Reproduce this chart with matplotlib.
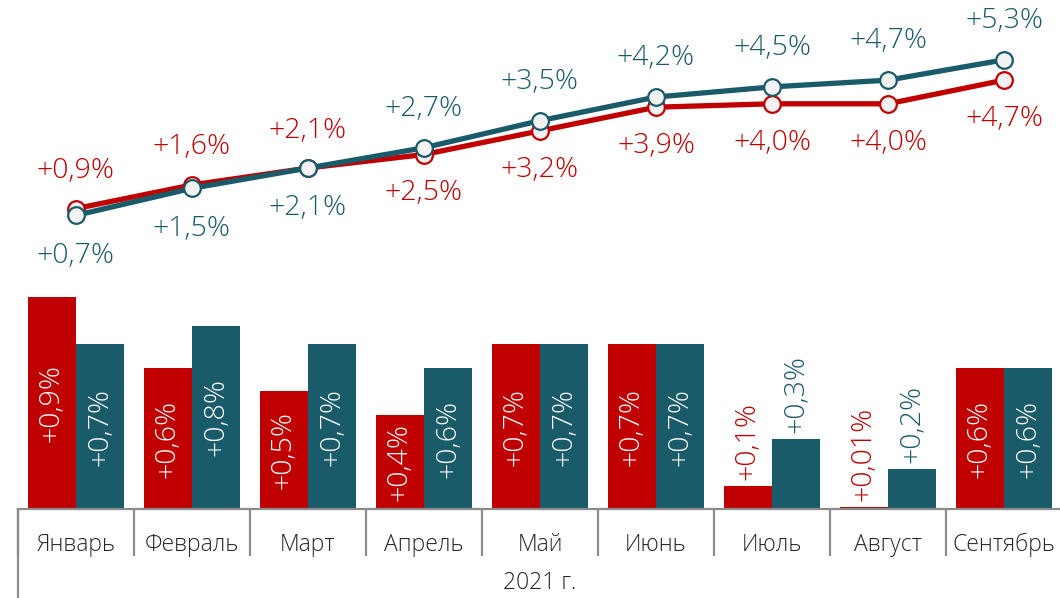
import numpy as np
import matplotlib.pyplot as plt
from matplotlib.transforms import blended_transform_factory

plt.rcParams['font.family'] = ['Open Sans', 'DejaVu Sans']
plt.rcParams['font.weight'] = 'light'

# data
months = ['Январь', 'Февраль', 'Март', 'Апрель', 'Май', 'Июнь', 'Июль', 'Август', 'Сентябрь']
cum_red = [0.9, 1.6, 2.1, 2.5, 3.2, 3.9, 4.0, 4.0, 4.7]
cum_teal = [0.7, 1.5, 2.1, 2.7, 3.5, 4.2, 4.5, 4.7, 5.3]
cum_red_lbl = ['+0,9%', '+1,6%', '+2,1%', '+2,5%', '+3,2%', '+3,9%', '+4,0%', '+4,0%', '+4,7%']
cum_teal_lbl = ['+0,7%', '+1,5%', '+2,1%', '+2,7%', '+3,5%', '+4,2%', '+4,5%', '+4,7%', '+5,3%']
mon_red = [0.90, 0.60, 0.50, 0.40, 0.70, 0.70, 0.10, 0.01, 0.60]
mon_teal = [0.70, 0.78, 0.70, 0.60, 0.70, 0.70, 0.30, 0.17, 0.60]
mon_red_lbl = ['+0,9%', '+0,6%', '+0,5%', '+0,4%', '+0,7%', '+0,7%', '+0,1%', '+0,01%', '+0,6%']
mon_teal_lbl = ['+0,7%', '+0,8%', '+0,7%', '+0,6%', '+0,7%', '+0,7%', '+0,3%', '+0,2%', '+0,6%']
year = '2021 г.'

RED = '#C00000'
TEAL = '#1A5B6A'
GRAY = '#8C8C8C'
FS = 20.5
FS_AX = 16.5

W, H = 1060, 598
fig = plt.figure(figsize=(W / 100, H / 100), dpi=100)

def box(x0, y_top, x1, y_bot):
    # pixel box -> figure fraction
    return [x0 / W, 1 - y_bot / H, (x1 - x0) / W, (y_bot - y_top) / H]

x = np.arange(len(months))
xlim = (-0.5, len(months) - 0.5)

# ---- line chart (cumulative) ----
axl = fig.add_axes(box(18, 0, 1062, 280))
axl.set_xlim(*xlim)
# 33.8 px per percent, zero at y=239 px
axl.set_ylim(-(280 - 239) / 33.8, 239 / 33.8)
axl.axis('off')
axl.plot(x, cum_red, color=RED, lw=3.8, marker='o', ms=12, mfc='#F2F2F2', mec=RED, mew=1.6,
         solid_capstyle='round', zorder=3)
axl.plot(x, cum_teal, color=TEAL, lw=3.8, marker='o', ms=12, mfc='#F2F2F2', mec=TEAL, mew=1.6,
         solid_capstyle='round', zorder=4)
for i in range(len(x)):
    up_red = i < 3  # red label above for Jan-Mar, below afterwards
    axl.annotate(cum_red_lbl[i], (x[i], cum_red[i]), xytext=(0, 27 if up_red else -28),
                 textcoords='offset points', ha='center', va='center', color=RED, fontsize=FS)
    axl.annotate(cum_teal_lbl[i], (x[i], cum_teal[i]), xytext=(0, -29 if up_red else 28),
                 textcoords='offset points', ha='center', va='center', color=TEAL, fontsize=FS)

# ---- bar chart (monthly) ----
axb = fig.add_axes(box(18, 280, 1062, 509))
axb.set_xlim(*xlim)
axb.set_ylim(0, 229 / 235)
bw = 0.414
b1 = axb.bar(x - bw / 2, mon_red, bw, color=RED)
b2 = axb.bar(x + bw / 2, mon_teal, bw, color=TEAL)
for bars, lbls, col in ((b1, mon_red_lbl, RED), (b2, mon_teal_lbl, TEAL)):
    for b, t in zip(bars, lbls):
        h = b.get_height()
        cx = b.get_x() + b.get_width() / 2
        if h >= 0.35:
            axb.text(cx, h / 2, t, rotation=90, ha='center', va='center', color='white', fontsize=FS)
        else:
            axb.annotate(t, (cx, h), xytext=(0, 4), textcoords='offset points', rotation=90,
                         ha='center', va='bottom', color=col, fontsize=FS)

for s in ('top', 'right', 'left'):
    axb.spines[s].set_visible(False)
axb.spines['bottom'].set_color(GRAY)
axb.spines['bottom'].set_linewidth(1.6)
axb.set_yticks([])
axb.set_xticks(x)
axb.set_xticklabels(months, fontsize=FS_AX, color='#262626')
axb.tick_params(axis='x', which='major', length=0, pad=17)
axb.set_xticks(np.arange(len(months) + 1) - 0.5, minor=True)
axb.tick_params(axis='x', which='minor', length=34, width=1.6, color=GRAY, direction='out')

# long left axis line down to the group label
tr = blended_transform_factory(axb.transData, fig.transFigure)
axb.plot([-0.5, -0.5], [1 - 509 / H, 0], transform=tr, color=GRAY, lw=1.6, clip_on=False)
fig.text((18 + 1062) / 2 / W, 1 - 583 / H, year, ha='center', va='center', fontsize=FS_AX, color='#262626')

fig.savefig('out.png', dpi=100)
